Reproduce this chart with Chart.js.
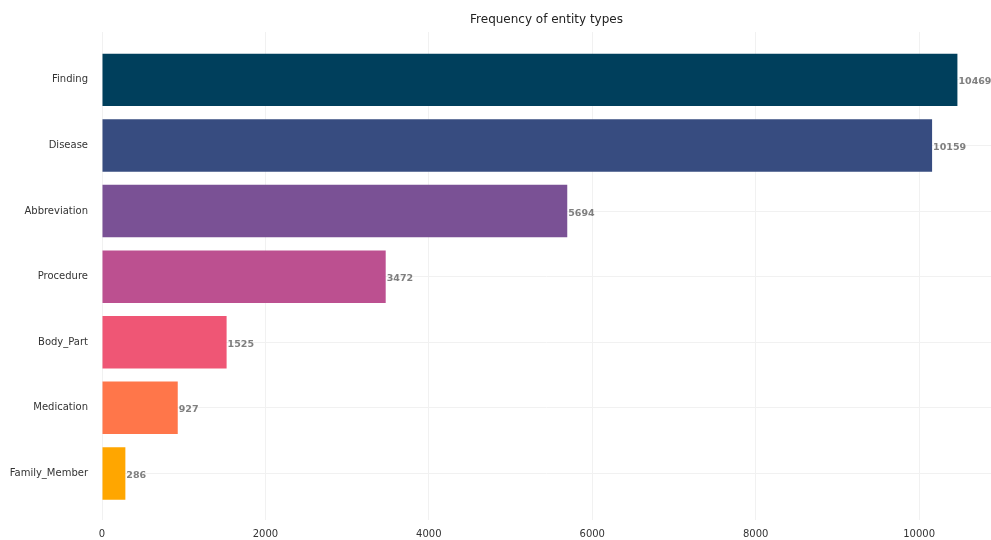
<!DOCTYPE html>
<html>
<head>
<meta charset="utf-8">
<script src="https://cdn.jsdelivr.net/npm/chart.js@4"></script>
<style>
  html, body { margin: 0; padding: 0; background: #fff; }
  #wrap { width: 991px; height: 540px; position: relative; }
</style>
</head>
<body>
<div id="wrap"><canvas id="chart"></canvas></div>
<script>
(function () {
    "use strict";

    // Data
    const categories = ["Finding", "Disease", "Abbreviation", "Procedure", "Body_Part", "Medication", "Family_Member"];
    const counts = [10469, 10159, 5694, 3472, 1525, 927, 286];
    const barColors = ["#003f5c", "#374c80", "#7a5195", "#bc5090", "#ef5675", "#ff764a", "#ffa600"];
    const xTicks = [0, 2000, 4000, 6000, 8000, 10000];
    const titleText = "Frequency of entity types";

    const font = "'DejaVu Sans', sans-serif";

    // Title centred over the plot area, plus value labels next to each bar
    const decorations = {
        id: "decorations",
        afterDatasetsDraw(chart) {
            const ctx = chart.ctx;
            const area = chart.chartArea;
            const meta = chart.getDatasetMeta(0);
            ctx.save();
            ctx.font = "12px " + font;
            ctx.fillStyle = "#222";
            ctx.textAlign = "center";
            ctx.textBaseline = "middle";
            ctx.fillText(titleText, (area.left + area.right) / 2, 20);

            ctx.font = "bold 9.5px " + font;
            ctx.fillStyle = "#7f7f7f";
            ctx.textAlign = "left";
            meta.data.forEach((bar, i) => {
                ctx.fillText(String(counts[i]), bar.x + 1, bar.y + 2);
            });
            ctx.restore();
        },
    };

    const ctx = document.getElementById("chart").getContext("2d");

    new Chart(ctx, {
        type: "bar",
        data: {
            datasets: [
                {
                    data: counts.map((v, i) => ({ x: v, y: i })),
                    backgroundColor: barColors,
                    borderWidth: 0,
                    categoryPercentage: 0.8,
                    barPercentage: 1,
                },
            ],
        },
        options: {
            indexAxis: "y",
            responsive: true,
            maintainAspectRatio: false,
            animation: false,
            layout: { padding: { left: 0, right: 0, top: 32, bottom: 0 } },
            plugins: {
                legend: { display: false },
                tooltip: { enabled: false },
                title: { display: false },
            },
            scales: {
                x: {
                    type: "linear",
                    min: 0,
                    max: 10880,
                    afterBuildTicks: (scale) => {
                        scale.ticks = xTicks.map((v) => ({ value: v }));
                    },
                    afterFit: (scale) => {
                        scale.height = 18;
                    },
                    ticks: {
                        color: "#333",
                        font: { family: font, size: 10 },
                        padding: 8,
                        maxRotation: 0,
                        callback: (v) => String(v),
                    },
                    grid: { color: "#f1f1f1", drawTicks: false },
                    border: { display: false },
                },
                y: {
                    type: "linear",
                    reverse: true,
                    offset: false,
                    min: -0.73,
                    max: 6.71,
                    afterBuildTicks: (scale) => {
                        scale.ticks = categories.map((c, i) => ({ value: i }));
                    },
                    afterFit: (scale) => {
                        scale.width = 102;
                    },
                    ticks: {
                        color: "#333",
                        font: { family: font, size: 10 },
                        padding: 14,
                        callback: (v) => categories[v],
                    },
                    grid: { color: "#f1f1f1", drawTicks: false, offset: false },
                    border: { display: false },
                },
            },
        },
        plugins: [decorations],
    });
})();
</script>
</body>
</html>
